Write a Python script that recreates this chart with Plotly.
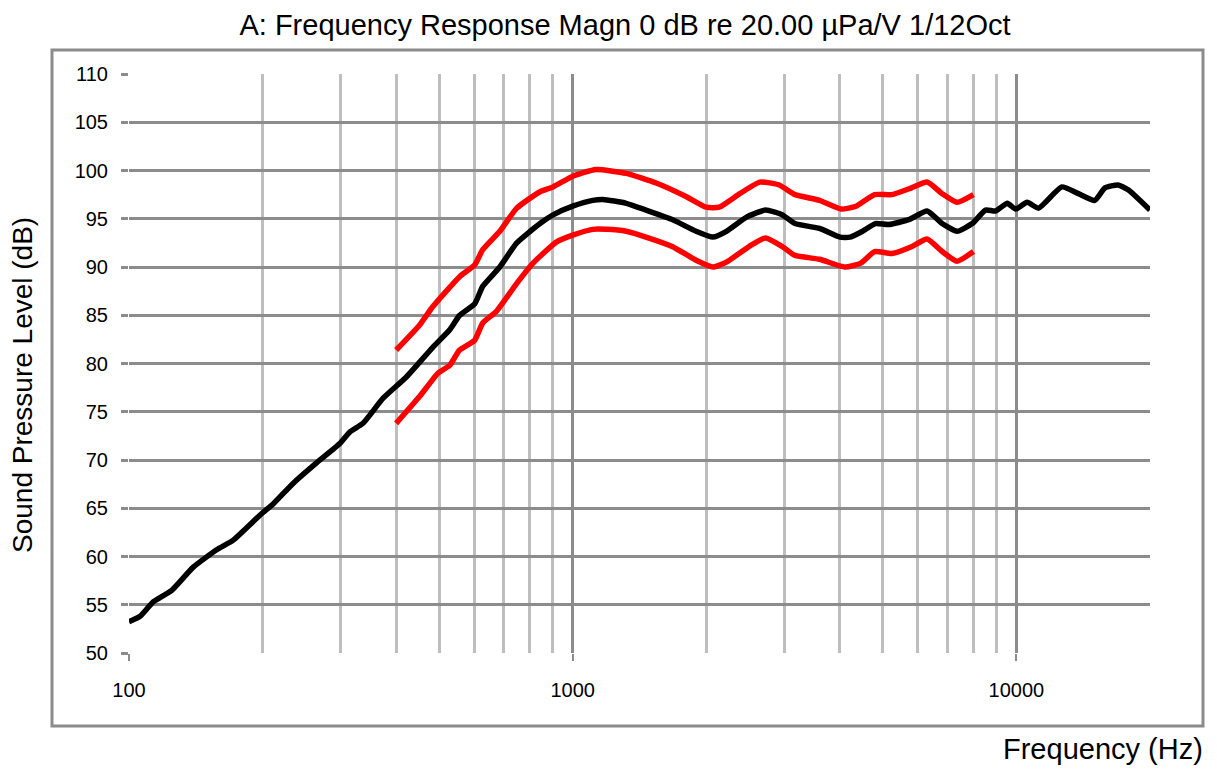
import plotly.graph_objects as go

# Black: measured response
black_f = [100, 105.9, 113.4, 124.8, 139.6, 157.6, 171.8, 197.5, 211.8, 234.6, 264.6, 298.6, 314.6, 336.7,
           373.9, 421.8, 484.3, 528.3, 556.2, 601.6, 627, 685, 748, 844, 903, 1000, 1110, 1170, 1320, 1462,
           1680, 1897, 2070, 2220, 2470, 2720, 2970, 3170, 3600, 4000, 4220, 4500, 4810, 5150, 5720, 6290,
           6800, 7350, 7950, 8520, 8970, 9540, 9960, 10570, 11220, 12650, 13800, 15020, 15830, 16950, 17860, 20000]
black_db = [53.25, 53.8, 55.3, 56.5, 58.9, 60.7, 61.7, 64.3, 65.5, 67.6, 69.7, 71.7, 72.9, 73.8,
            76.4, 78.6, 81.7, 83.5, 85.0, 86.2, 88.0, 90.0, 92.5, 94.5, 95.4, 96.3, 96.9, 97.0, 96.6, 95.9,
            94.9, 93.7, 93.1, 93.7, 95.2, 95.9, 95.4, 94.5, 94.0, 93.1, 93.1, 93.7, 94.5, 94.4, 94.9, 95.8,
            94.5, 93.7, 94.5, 95.9, 95.8, 96.6, 96.0, 96.7, 96.1, 98.3, 97.6, 96.9, 98.2, 98.5, 98.0, 95.9]

# Red: upper tolerance
upper_f = [400, 452, 484, 556, 601, 627, 685, 748, 844, 903, 1000, 1128, 1320, 1542, 1800, 1997, 2140,
           2380, 2640, 2920, 3170, 3600, 4030, 4350, 4790, 5240, 5800, 6290, 6800, 7350, 8000]
upper_db = [81.4, 84.0, 85.9, 89.0, 90.2, 91.8, 93.7, 96.1, 97.8, 98.3, 99.4, 100.1, 99.7, 98.7, 97.3,
            96.2, 96.2, 97.6, 98.8, 98.5, 97.5, 96.9, 96.0, 96.3, 97.5, 97.5, 98.2, 98.8, 97.6, 96.7, 97.5]

# Red: lower tolerance
lower_f = [400, 452, 497, 528, 556, 601, 627, 673, 748, 814, 920, 1000, 1110, 1190, 1320, 1462, 1680,
           1897, 2070, 2220, 2530, 2720, 2970, 3170, 3600, 4100, 4460, 4790, 5240, 5800, 6290, 6800, 7350, 8000]
lower_db = [73.8, 76.6, 79.0, 79.8, 81.4, 82.4, 84.2, 85.4, 88.3, 90.4, 92.6, 93.3, 93.9, 93.9, 93.7,
            93.1, 92.1, 90.7, 90.0, 90.5, 92.3, 93.0, 92.1, 91.2, 90.8, 90.0, 90.4, 91.6, 91.4, 92.1, 92.9,
            91.6, 90.6, 91.6]

x_major = [100, 1000, 10000]
x_major_labels = ["100", "1000", "10000"]
x_minor = [200, 300, 400, 500, 600, 700, 800, 900, 2000, 3000, 4000, 5000, 6000, 7000, 8000, 9000, 20000]
y_ticks = list(range(50, 111, 5))

FONT = "Liberation Sans, Arial, Helvetica, sans-serif"

# figure is offset by the page's default 8px body margin
W, H = 1209, 763
L, T, PW, PH = 121, 66, 1021, 579
R, B = W - L - PW, H - T - PH


def px(x):
    return (x - L) / PW


def py(y):
    return (T + PH - y) / PH


line_style = dict(width=5.5, shape="spline", smoothing=0.5)

fig = go.Figure()
fig.add_trace(go.Scatter(x=upper_f, y=upper_db, mode="lines", line=dict(color="#ff0000", **line_style),
                         showlegend=False))
fig.add_trace(go.Scatter(x=lower_f, y=lower_db, mode="lines", line=dict(color="#ff0000", **line_style),
                         showlegend=False))
fig.add_trace(go.Scatter(x=black_f, y=black_db, mode="lines", line=dict(color="#000000", **line_style),
                         showlegend=False))

fig.update_layout(
    width=W, height=H,
    paper_bgcolor="white", plot_bgcolor="white",
    margin=dict(l=L, r=R, t=T, b=B),
    font=dict(family=FONT, color="black", size=20),
    title=dict(text="A: Frequency Response Magn 0 dB re 20.00 µPa/V 1/12Oct",
               font=dict(family=FONT, size=29, color="black"),
               x=px(617), xanchor="center", xref="paper", y=1 - 17 / H, yanchor="middle"),
    xaxis=dict(type="log", range=[2, 4.30103], tickvals=x_major, ticktext=x_major_labels,
               showgrid=True, gridcolor="#8c8c8c", gridwidth=3,
               ticks="outside", ticklen=7, tickwidth=2, tickcolor="#8c8c8c",
               tickfont=dict(size=20), ticklabelstandoff=12, zeroline=False, showline=False,
               minor=dict(tickvals=x_minor, showgrid=True, gridcolor="#bebebe", gridwidth=3, ticks=""),
               ),
    yaxis=dict(range=[50, 110], tickvals=y_ticks, showgrid=True, gridcolor="#8c8c8c", gridwidth=3,
               ticks="outside", ticklen=7, tickwidth=3, tickcolor="#8c8c8c",
               tickfont=dict(size=20), ticklabelstandoff=9, zeroline=False, showline=False),
)

fig.add_shape(type="rect", xref="paper", yref="paper",
              x0=px(44), x1=px(1195), y0=py(718), y1=py(42),
              line=dict(color="#8c8c8c", width=3), fillcolor="rgba(0,0,0,0)", layer="below")

fig.add_annotation(text="Sound Pressure Level (dB)", xref="paper", yref="paper",
                   x=px(14), y=py(377), xanchor="center", yanchor="middle", textangle=-90,
                   showarrow=False, font=dict(family=FONT, size=28, color="black"))

fig.add_annotation(text="Frequency (Hz)", xref="paper", yref="paper",
                   x=px(1197), y=py(741), xanchor="right", yanchor="middle",
                   showarrow=False, font=dict(family=FONT, size=29, color="black"))

fig.write_html("out.html")
